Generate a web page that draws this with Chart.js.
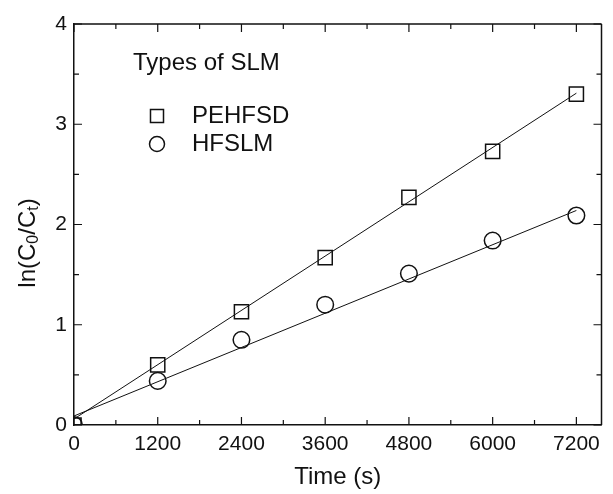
<!DOCTYPE html>
<html>
<head>
<meta charset="utf-8">
<script src="https://cdn.jsdelivr.net/npm/chart.js@4"></script>
<style>
  body { margin: 0; background: #fff; }
  #wrap { width: 613px; height: 494px; }
</style>
</head>
<body>
<div id="wrap"><canvas id="chart" width="613" height="494"></canvas></div>
<script>
// data
const times = [0, 1200, 2400, 3600, 4800, 6000, 7200];
const pehfsd = [0, 0.60, 1.13, 1.67, 2.27, 2.73, 3.30];
const hfslm = [0, 0.44, 0.85, 1.20, 1.51, 1.84, 2.09];

// linear fit lines (end points)
const fitTimes = [0, 7200];
const pehfsdFit = [0.06, 3.31];
const hfslmFit = [0.09, 2.14];

const xTicks = [0, 1200, 2400, 3600, 4800, 6000, 7200];
const xMinor = [600, 1800, 3000, 4200, 5400, 6600];
const yTicks = [0, 1, 2, 3, 4];
const yMinor = [0.5, 1.5, 2.5, 3.5];

const font = "'Liberation Sans', Arial, sans-serif";
const ink = '#111';

const pts = (xs, ys) => xs.map((x, i) => ({ x: x, y: ys[i] }));

// inward ticks on all four sides, top/right frame, y title and legend
const frame = {
    id: 'frame',
    afterDraw(c) {
        const ctx = c.ctx;
        const a = c.chartArea;
        const xs = c.scales.x, ys = c.scales.y;
        ctx.save();
        ctx.strokeStyle = ink;
        ctx.lineWidth = 1.5;
        ctx.beginPath();
        ctx.moveTo(a.left, a.top); ctx.lineTo(a.right, a.top);
        ctx.moveTo(a.right, a.top); ctx.lineTo(a.right, a.bottom);
        ctx.stroke();

        ctx.lineWidth = 1.2;
        ctx.beginPath();
        const xt = (v, len) => {
            const p = xs.getPixelForValue(v);
            ctx.moveTo(p, a.bottom); ctx.lineTo(p, a.bottom - len);
            ctx.moveTo(p, a.top); ctx.lineTo(p, a.top + len);
        };
        const yt = (v, len) => {
            const p = ys.getPixelForValue(v);
            ctx.moveTo(a.left, p); ctx.lineTo(a.left + len, p);
            ctx.moveTo(a.right, p); ctx.lineTo(a.right - len, p);
        };
        xTicks.forEach(v => xt(v, 8));
        xMinor.forEach(v => xt(v, 5));
        yTicks.forEach(v => yt(v, 8));
        yMinor.forEach(v => yt(v, 5));
        ctx.stroke();

        // y axis title with subscripts
        ctx.fillStyle = ink;
        ctx.textBaseline = 'middle';
        const big = '24px ' + font, small = '16px ' + font;
        const parts = [['ln(C', big, 0], ['0', small, 6], ['/C', big, 0], ['t', small, 6], [')', big, 0]];
        let total = 0;
        parts.forEach(p => { ctx.font = p[1]; total += ctx.measureText(p[0]).width; });
        ctx.translate(28, 243 + total / 2);
        ctx.rotate(-Math.PI / 2);
        let x = 0;
        parts.forEach(p => {
            ctx.font = p[1];
            ctx.fillText(p[0], x, p[2]);
            x += ctx.measureText(p[0]).width;
        });
        ctx.setTransform(1, 0, 0, 1, 0, 0);

        // legend
        ctx.font = '24px ' + font;
        ctx.textAlign = 'left';
        ctx.fillText('Types of SLM', 133, 63);
        const items = [
            { label: c.data.datasets[0].label, style: 'rect', r: 9.2, y: 116 },
            { label: c.data.datasets[1].label, style: 'circle', r: 7.5, y: 144 }
        ];
        ctx.lineWidth = 1.5;
        items.forEach(it => {
            ctx.fillStyle = '#fff';
            Chart.helpers.drawPoint(ctx, { pointStyle: it.style, radius: it.r, borderWidth: 1.5 }, 157, it.y);
            ctx.fillStyle = ink;
            ctx.fillText(it.label, 192, it.y);
        });
        ctx.restore();
    }
};

new Chart(document.querySelector('#chart').getContext('2d'), {
    type: 'scatter',
    data: {
        datasets: [
            {
                label: 'PEHFSD',
                data: pts(times, pehfsd),
                pointStyle: 'rect',
                pointRadius: 10,
                borderColor: ink,
                backgroundColor: 'rgba(0,0,0,0)',
                pointBorderWidth: 1.5
            },
            {
                label: 'HFSLM',
                data: pts(times, hfslm),
                pointStyle: 'circle',
                pointRadius: 8.3,
                borderColor: ink,
                backgroundColor: 'rgba(0,0,0,0)',
                pointBorderWidth: 1.5
            },
            {
                label: 'PEHFSD fit',
                data: pts(fitTimes, pehfsdFit),
                showLine: true,
                pointRadius: 0,
                borderColor: ink,
                borderWidth: 1
            },
            {
                label: 'HFSLM fit',
                data: pts(fitTimes, hfslmFit),
                showLine: true,
                pointRadius: 0,
                borderColor: ink,
                borderWidth: 1
            }
        ]
    },
    options: {
        responsive: false,
        animation: false,
        layout: { padding: { top: 24, right: 2, left: 0, bottom: 0 } },
        plugins: { legend: { display: false }, tooltip: { enabled: false } },
        scales: {
            x: {
                type: 'linear',
                min: 0,
                max: 7560,
                grid: { display: false, drawTicks: false },
                border: { display: true, color: ink, width: 1.5 },
                afterBuildTicks: s => { s.ticks = xTicks.map(v => ({ value: v })); },
                afterFit: s => { s.height = 69; },
                ticks: { color: ink, font: { family: font, size: 21 }, padding: 7, maxRotation: 0, callback: v => String(v) },
                title: { display: true, text: 'Time (s)', color: ink, font: { family: font, size: 24 }, padding: { top: 0, bottom: 2 } }
            },
            y: {
                min: 0,
                max: 4,
                grid: { display: false, drawTicks: false },
                border: { display: true, color: ink, width: 1.5 },
                afterBuildTicks: s => { s.ticks = yTicks.map(v => ({ value: v })); },
                afterFit: s => { s.width = 74; },
                ticks: { color: ink, font: { family: font, size: 21 }, padding: 7, callback: v => String(v) }
            }
        }
    },
    plugins: [frame]
});
</script>
</body>
</html>
